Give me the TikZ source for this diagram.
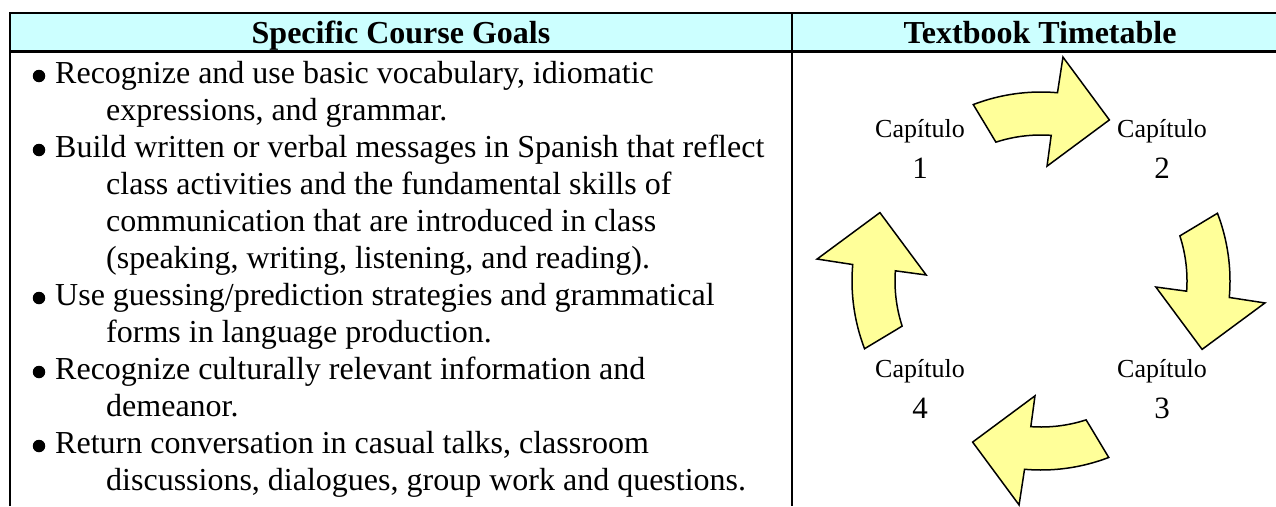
\documentclass[tikz,border=0pt]{standalone}
\usepackage{fontspec}
\setmainfont{Liberation Serif}
\definecolor{headcyan}{HTML}{CCFFFF}
\definecolor{arrowyellow}{HTML}{FFFF99}
\tikzset{
  rule/.style={line width=2.5pt},
  goal/.style={font=\fontsize{32}{37}\selectfont,inner sep=0pt,anchor=base west},
  head/.style={font=\fontsize{32}{37}\selectfont\bfseries,inner sep=0pt,anchor=base},
  dot/.style={fill=black,circle,inner sep=0pt,minimum size=12.5pt},
  chap/.style={font=\fontsize{26}{30}\selectfont,inner sep=0pt,anchor=base},
  chapnum/.style={font=\fontsize{31}{34}\selectfont,inner sep=0pt,anchor=base},
  cyclearrow/.style={draw=black,fill=arrowyellow,line width=1.5pt,line join=miter}
}
\begin{document}
\begin{tikzpicture}[x=1pt,y=-1pt]
\useasboundingbox (0,0) rectangle (1276,506);
% the header band and the table rules
\fill[headcyan] (10,13) rectangle (1276,51.5);
\draw[rule] (10,506) -- (10,13) -- (1276,13);
\draw[rule,line width=3.5pt] (10,51.5) -- (1276,51.5);
\draw[rule] (792,13) -- (792,506);
\node[head] (goals) at (401,43) {Specific Course Goals};
\node[head] (timetable) at (1040,43) {Textbook Timetable};
% the goals, one line at a time
\foreach \ind/\txt [count=\i] in {
  55/{Recognize and use basic vocabulary, idiomatic},
  106/{expressions, and grammar.},
  55/{Build written or verbal messages in Spanish that reflect},
  106/{class activities and the fundamental skills of},
  106/{communication that are introduced in class},
  106/{(speaking, writing, listening, and reading).},
  55/{Use guessing/prediction strategies and grammatical},
  106/{forms in language production.},
  55/{Recognize culturally relevant information and},
  106/{demeanor.},
  55/{Return conversation in casual talks, classroom},
  106/{discussions, dialogues, group work and questions.}}
  \node[goal] (line\i) at (\ind,46+37*\i) {\txt};
% the bullets
\foreach \i in {1,3,7,9,11}
  \node[dot] (dot\i) at (39,39+37*\i) {};
% the four arrows of the cycle
\begin{scope}[shift={(1041,281)},y=1pt]
\foreach \r in {0,-90,-180,-270}
  \draw[cyclearrow,rotate=\r] (111:189) arc[start angle=111,end angle=85,radius=189]
    -- (84.4:225) -- (67:175) -- (87:115) -- (86:146)
    arc[start angle=86,end angle=108,radius=146] -- cycle;
\end{scope}
% the chapters
\foreach \n/\x/\y in {1/920/137,2/1162/137,3/1162/377,4/920/377}{
  \node[chap] (cap\n) at (\x,\y) {Capítulo};
  \node[chapnum] (num\n) at (\x,\y+41) {\n};
}
\end{tikzpicture}
\end{document}
